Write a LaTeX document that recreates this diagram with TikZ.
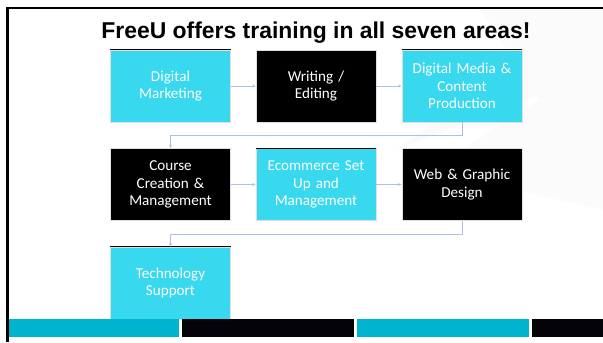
\documentclass[tikz,border=0pt]{standalone}
\usepackage{fontspec}
\setmainfont{Carlito}
\newfontfamily\titlefont{Liberation Sans}
\usetikzlibrary{arrows.meta}
\definecolor{fucyan}{RGB}{56,216,238}
\definecolor{fubar}{RGB}{0,180,208}
\definecolor{fuline}{RGB}{172,194,228}
\definecolor{fudark}{RGB}{4,4,8}

\begin{document}
\begin{tikzpicture}[x=1bp,y=-1bp,
    area/.style={minimum width=120bp,minimum height=72bp,inner sep=2bp,
      text width=114bp,align=center,text=white,draw=gray!25,line width=0.8bp,
      font=\fontsize{15.2}{17.5}\selectfont},
    cyanarea/.style={area,fill=fucyan},
    darkarea/.style={area,fill=black},
    link/.style={fuline,line width=0.7bp,-{Stealth[length=3.5bp,width=3bp]}}]
  \useasboundingbox (0,0) rectangle (603,342);
  % faint background facets
  \fill[gray!4] (603,9) -- (395,150) -- (603,70) -- cycle;
  \fill[gray!3] (603,60) -- (430,170) -- (603,210) -- cycle;
  \fill[gray!3] (480,9) -- (560,130) -- (603,9) -- cycle;
  % frame
  \fill[black] (6,7) rectangle (603,9.3);
  \fill[black] (6,7) rectangle (8.5,342);
  \node[anchor=base] (title) at (316,38.3)
    {\titlefont\bfseries\fontsize{23}{26}\selectfont FreeU offers training in all seven areas!};
  % rows of areas
  \node[cyanarea] (dm) at (170.5,86) {Digital\\Marketing};
  \node[darkarea] (we) at (316,86) {Writing /\\Editing};
  \node[cyanarea] (dc) at (462,86) {Digital Media \&\\Content\\Production};
  \node[darkarea] (cc) at (170.5,184.5) {Course\\Creation \&\\Management};
  \node[cyanarea] (ec) at (316,184.5) {Ecommerce Set\\Up and\\Management};
  \node[darkarea] (wg) at (462,184.5) {Web \& Graphic\\Design};
  \node[cyanarea] (ts) at (170.5,283) {Technology\\Support};
  \foreach \n in {dm,dc,ec,ts}
    \draw[black,line width=1bp] (\n.north west) -- (\n.north east);
  % connectors
  \draw[link] (dm) -- (we);
  \draw[link] (we) -- (dc);
  \draw[link] (dc.south) -- ++(0,13) -| (cc.north);
  \draw[link] (cc) -- (ec);
  \draw[link] (ec) -- (wg);
  \draw[link] (wg.south) -- ++(0,13) -| (ts.north);
  % bottom bars
  \fill[fubar] (9,319) rectangle (179,337);
  \fill[fudark] (181.5,319) rectangle (354,337);
  \fill[fubar] (356.5,319) rectangle (529,337);
  \fill[fudark] (531.5,319) rectangle (603,337);
\end{tikzpicture}
\end{document}
